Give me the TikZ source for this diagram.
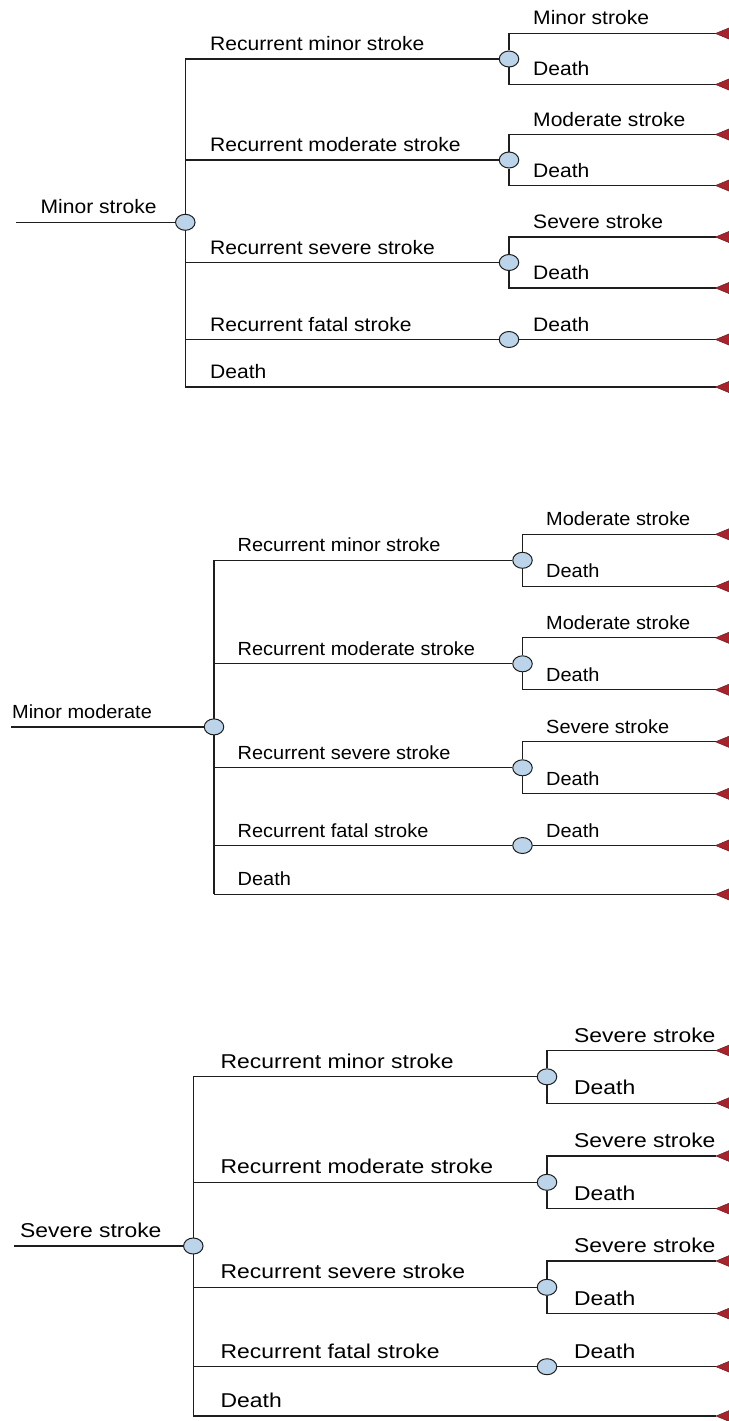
\documentclass[tikz,border=0pt]{standalone}
\usepackage{fontspec}
\usetikzlibrary{shapes.geometric}
\setmainfont{Liberation Sans}
\newfontfamily\fa[FakeStretch=1.08]{Liberation Sans}
\newfontfamily\fb[FakeStretch=1.05]{Liberation Sans}
\newfontfamily\fc[FakeStretch=1.145]{Liberation Sans}
\definecolor{nodefill}{HTML}{BCD4EA}
\definecolor{linec}{HTML}{1E1E1E}
\definecolor{termc}{HTML}{A8232B}
\tikzset{
  br/.style={draw=linec, line width=1.2pt},
  chance/.style={ellipse, draw=linec, line width=1pt, fill=nodefill, minimum width=19.5pt, minimum height=16pt, inner sep=0pt},
  lab/.style={anchor=base west, inner sep=0pt, text=black},
}
\newcommand\myterm[1]{\filldraw[fill=termc, draw=termc!70!black, line width=0.5pt] (#1) -- ++(14.5,-6) -- ++(0,12) -- cycle;}
% parameters: \P prefix, \Xr root start, \Xl root label, \Xm main x, \Xb branch label x,
% \Xs sub node x, \Xt sub label x, \Xe tip x, \Yr root y, \Ya..\Ye branch y, \D sub offset
\newcommand\mydtree[5]{%
  \begin{scope}[font=#5]
  \coordinate (\P-r) at (\Xr,\Yr);
  \coordinate (\P-b1) at (\Xm,\Ya);
  \coordinate (\P-b2) at (\Xm,\Yb);
  \coordinate (\P-b3) at (\Xm,\Yc);
  \coordinate (\P-b4) at (\Xm,\Yd);
  \coordinate (\P-b5) at (\Xm,\Ye);
  \draw[br] (\P-b1) -- (\P-b5);
  \node[chance] (\P-c) at (\Xm,\Yr) {};
  \draw[br] (\P-r) -- (\P-c);
  \node[lab] (\P-rl) at (\Xl,{\Yr-8.5}) {#1};
  \foreach \i/\y/\t/\lb in {1/\Ya/#2/Recurrent minor stroke, 2/\Yb/#3/Recurrent moderate stroke, 3/\Yc/#4/Recurrent severe stroke}{
    \node[chance] (\P-n\i) at (\Xs,\y) {};
    \draw[br] (\P-b\i) -- (\P-n\i);
    \coordinate (\P-u\i) at (\Xe,{\y-\D});
    \coordinate (\P-d\i) at (\Xe,{\y+\D});
    \draw[br] (\P-n\i) |- (\P-u\i);
    \draw[br] (\P-n\i) |- (\P-d\i);
    \myterm{\P-u\i}
    \myterm{\P-d\i}
    \node[lab] (\P-l\i) at (\Xb,{\y-8.5}) {\lb};
    \node[lab] (\P-lu\i) at (\Xt,{\y-\D-8.5}) {\t};
    \node[lab] (\P-ld\i) at (\Xt,{\y+\D-8.5}) {Death};
  }
  % fatal branch
  \node[chance] (\P-n4) at (\Xs,\Yd) {};
  \coordinate (\P-t4) at (\Xe,\Yd);
  \draw[br] (\P-b4) -- (\P-n4);
  \draw[br] (\P-n4) -- (\P-t4);
  \myterm{\P-t4}
  \node[lab] (\P-l4) at (\Xb,{\Yd-8.5}) {Recurrent fatal stroke};
  \node[lab] (\P-lt4) at (\Xt,{\Yd-8.5}) {Death};
  % death branch
  \coordinate (\P-t5) at (\Xe,\Ye);
  \draw[br] (\P-b5) -- (\P-t5);
  \myterm{\P-t5}
  \node[lab] (\P-l5) at (\Xb,{\Ye-8.5}) {Death};
  \end{scope}
}
\begin{document}
\begin{tikzpicture}[x=1pt,y=-1pt]
\fill[white] (0,0) rectangle (728,1421);
\useasboundingbox (0,0) rectangle (728,1421);
% tree 1
\def\P{a}\def\Xr{16}\def\Xl{40.5}\def\Xm{185.3}\def\Xb{210}\def\Xs{509}\def\Xt{533}\def\Xe{715.5}
\def\Yr{222.3}\def\Ya{59}\def\Yb{160}\def\Yc{262.5}\def\Yd{339.5}\def\Ye{387}\def\D{25.5}
\mydtree{Minor stroke}{Minor stroke}{Moderate stroke}{Severe stroke}{\fa\fontsize{19.5}{22}\selectfont}
% tree 2
\def\P{b}\def\Xr{11}\def\Xl{12}\def\Xm{214}\def\Xb{237.5}\def\Xs{522.5}\def\Xt{546}\def\Xe{715.5}
\def\Yr{726.9}\def\Ya{560.3}\def\Yb{663.8}\def\Yc{767.8}\def\Yd{845.5}\def\Ye{894.4}\def\D{26}
\mydtree{Minor moderate}{Moderate stroke}{Moderate stroke}{Severe stroke}{\fb\fontsize{19}{22}\selectfont}
% tree 3
\def\P{c}\def\Xr{14}\def\Xl{20}\def\Xm{193.3}\def\Xb{220.5}\def\Xs{547}\def\Xt{574}\def\Xe{716}
\def\Yr{1246}\def\Ya{1076.8}\def\Yb{1182.3}\def\Yc{1287.3}\def\Yd{1366.7}\def\Ye{1416}\def\D{26.3}
\mydtree{Severe stroke}{Severe stroke}{Severe stroke}{Severe stroke}{\fc\fontsize{20}{22}\selectfont}
\end{tikzpicture}
\end{document}
